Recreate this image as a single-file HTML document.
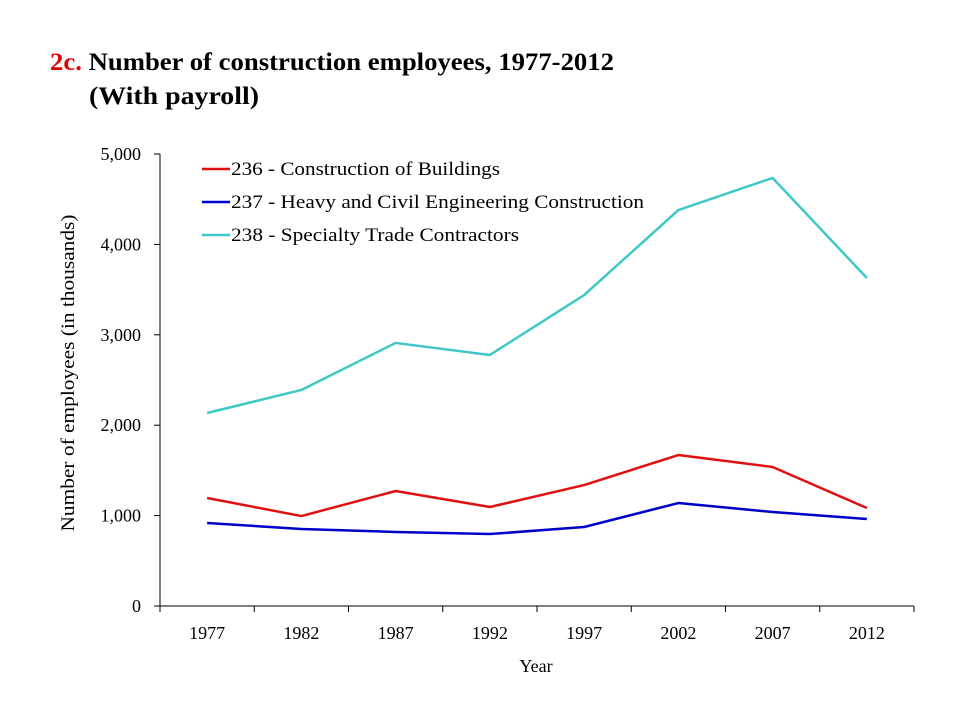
<!DOCTYPE html>
<html><head><meta charset="utf-8"><style>
html,body{margin:0;padding:0;background:#fff;width:960px;height:720px;overflow:hidden}
svg{display:block;font-family:"Liberation Serif",serif}
</style></head><body>
<svg id="chart" width="960" height="720" viewBox="0 0 960 720" xmlns="http://www.w3.org/2000/svg">
<g font-weight="bold" font-size="25">
<text x="50" y="70" textLength="564" lengthAdjust="spacingAndGlyphs"><tspan fill="#e00000">2c.</tspan><tspan fill="#000"> Number of construction employees, 1977-2012</tspan></text>
<text x="89" y="104" textLength="170" lengthAdjust="spacingAndGlyphs">(With payroll)</text>
</g>
<text transform="translate(74,373) rotate(-90)" text-anchor="middle" font-size="19" textLength="317" lengthAdjust="spacingAndGlyphs">Number of employees  (in thousands)</text>
<text x="536" y="672" text-anchor="middle" font-size="18">Year</text>
<g id="axes"></g>
<g id="series"></g>
<g id="legend"></g>
</svg>
<script>
const years = ["1977","1982","1987","1992","1997","2002","2007","2012"];
const yTicks = [0,1000,2000,3000,4000,5000];
const yTickLabels = ["0","1,000","2,000","3,000","4,000","5,000"];
const seriesNames = ["236 - Construction of Buildings","237 - Heavy and Civil Engineering Construction","238 - Specialty Trade Contractors"];
const seriesColors = ["#e01010","#0000c8","#40c8c8"];
const buildings = [1195,995,1272,1095,1338,1670,1538,1084];
const heavyCivil = [918,852,819,796,874,1139,1040,962];
const specialty = [2135,2390,2910,2777,3440,4380,4735,3628];
const allSeries = [buildings, heavyCivil, specialty];

const NS="http://www.w3.org/2000/svg";
const L=160,R=914,T=154,B=606,YMAX=5000;
const step=(R-L)/years.length;
const xPos=i=>L+step*(i+0.5);
const yPos=v=>B-(v/YMAX)*(B-T);
function mk(tag,attrs,parent){const e=document.createElementNS(NS,tag);for(const k in attrs)e.setAttribute(k,attrs[k]);parent.appendChild(e);return e;}
const axes=document.getElementById('axes');
const ya=mk('line',{x1:L,y1:T,x2:L,y2:B,stroke:'#000','stroke-width':1},axes);


const xa=mk('line',{x1:L,y1:B,x2:R,y2:B,stroke:'#000','stroke-width':1},axes);


yTicks.forEach((v,i)=>{
  mk('line',{x1:L-6,y1:yPos(v),x2:L,y2:yPos(v),stroke:'#000'},axes);
  const t=mk('text',{x:L-19,y:yPos(v)+6,'text-anchor':'end','font-size':18},axes);
  t.textContent=yTickLabels[i];
  
  
});
for(let i=0;i<=years.length;i++){
  mk('line',{x1:L+step*i,y1:B,x2:L+step*i,y2:B+6,stroke:'#000'},axes);
}
years.forEach((y,i)=>{
  const t=mk('text',{x:xPos(i),y:639,'text-anchor':'middle','font-size':18},axes);
  t.textContent=y;
  
  
});
const sg=document.getElementById('series');
const sNames=['series-236-buildings','series-237-heavy-civil','series-238-specialty-trade'];
allSeries.forEach((vals,s)=>{
  const p=mk('polyline',{points:vals.map((v,i)=>xPos(i)+','+yPos(v)).join(' '),fill:'none',stroke:seriesColors[s],'stroke-width':2.5,'stroke-linejoin':'round'},sg);
  
  
});
const lg=document.getElementById('legend');
const legendLens=[269,413,288];
seriesNames.forEach((n,s)=>{
  const y=169+s*33;
  const g=mk('g',{},lg);
  
  
  mk('line',{x1:202,y1:y,x2:230,y2:y,stroke:seriesColors[s],'stroke-width':2.5},g);
  const t=mk('text',{x:231,y:y+6,'font-size':19,textLength:legendLens[s],lengthAdjust:'spacingAndGlyphs'},g);
  t.textContent=n;
});
</script>
</body></html>
